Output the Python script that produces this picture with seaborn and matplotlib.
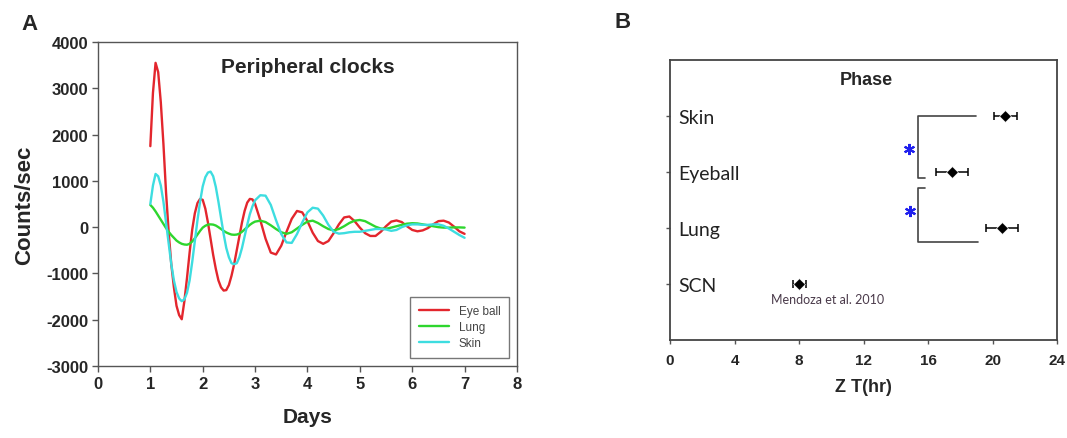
import matplotlib
matplotlib.use('Agg')
import matplotlib.pyplot as plt
import numpy as np
import pandas as pd
import seaborn as sns

# 数据：面板A（从图中读取的生物发光曲线）
days = [1.00, 1.05, 1.10, 1.15, 1.20, 1.25, 1.30, 1.35, 1.40, 1.45, 1.50, 1.55, 1.60, 1.65,
        1.70, 1.75, 1.80, 1.85, 1.90, 1.95, 2.00, 2.05, 2.10, 2.15, 2.20, 2.25, 2.30, 2.35,
        2.40, 2.45, 2.50, 2.55, 2.60, 2.65, 2.70, 2.75, 2.80, 2.85, 2.90, 2.95, 3.00,
        3.1, 3.2, 3.3, 3.4, 3.5, 3.6, 3.7, 3.8, 3.9, 4.0, 4.1, 4.2, 4.3, 4.4, 4.5, 4.6, 4.7,
        4.8, 4.9, 5.0, 5.1, 5.2, 5.3, 5.4, 5.5, 5.6, 5.7, 5.8, 5.9, 6.0, 6.1, 6.2, 6.3, 6.4,
        6.5, 6.6, 6.7, 6.8, 6.9, 7.0]
eyeball = [1750, 2900, 3550, 3350, 2700, 1800, 750, -100, -800, -1300, -1700, -1900, -1990, -1600,
           -1100, -550, -50, 300, 520, 610, 590, 400, 100, -250, -600, -900, -1150, -1300,
           -1370, -1360, -1250, -1050, -800, -500, -200, 100, 350, 530, 610, 600, 500,
           150, -250, -550, -590, -400, -100, 180, 350, 320, 130, -120, -300, -360, -300, -130, 60, 210,
           230, 130, -10, -130, -190, -190, -100, 20, 120, 145, 110, 20, -60, -90, -70, -20, 60,
           130, 140, 100, 10, -90, -145]
lung = [480, 420, 340, 250, 160, 70, -20, -100, -170, -230, -290, -330, -360, -375,
        -380, -360, -310, -240, -160, -80, -10, 30, 55, 60, 55, 35, 0, -40,
        -80, -115, -140, -160, -165, -160, -140, -100, -50, 0, 50, 90, 120,
        140, 110, 40, -40, -110, -145, -110, -30, 50, 120, 140, 90, 20, -40, -70, -40, 20,
        90, 140, 155, 130, 70, 10, -30, -35, -10, 20, 50, 75, 85, 80, 60, 40, 20,
        0, -10, -10, -5, -5, -10]
skin = [500, 900, 1150, 1100, 900, 550, 100, -350, -800, -1150, -1400, -1540, -1600, -1560,
        -1420, -1150, -750, -300, 150, 550, 880, 1080, 1180, 1200, 1100, 870, 550, 200,
        -150, -450, -650, -780, -800, -780, -650, -450, -200, 50, 280, 450, 580,
        690, 680, 480, 150, -150, -330, -340, -150, 100, 320, 420, 400, 250, 50, -100, -140, -130,
        -110, -100, -100, -80, -60, -40, -40, -50, -80, -60, 0, 40, 60, 60, 50, 50, 60,
        60, 30, -30, -100, -170, -230]

# 数据：面板B（相位，均值 ± 误差）
tissues = ['Skin', 'Eyeball', 'Lung', 'SCN']
tissue_pos = [4, 3, 2, 1]
phase_mean = [20.8, 17.5, 20.6, 8.0]
phase_err = [0.7, 1.0, 1.0, 0.4]

# 显著性括号
bracket1_x = [19.0, 15.4, 15.4, 15.8]
bracket1_y = [4.0, 4.0, 2.9, 2.9]
bracket2_x = [15.8, 15.4, 15.4, 19.1]
bracket2_y = [2.72, 2.72, 1.75, 1.75]
star_x = [14.8, 14.85]
star_y = [3.42, 2.3]

sns.set_style('white')
plt.rcParams['font.family'] = ['Liberation Sans', 'DejaVu Sans']

fig = plt.figure(figsize=(10.67, 4.39), dpi=100)
ax1 = fig.add_axes([0.0918, 0.164, 0.3927, 0.738])
ax2 = fig.add_axes([0.628, 0.223, 0.3627, 0.638])

# 面板A
df = pd.DataFrame({
    'Days': days * 3,
    'Counts': eyeball + lung + skin,
    'Tissue': ['Eye ball'] * len(days) + ['Lung'] * len(days) + ['Skin'] * len(days),
})
palette = {'Eye ball': '#e3262d', 'Lung': '#2ed62e', 'Skin': '#3ddde0'}
sns.lineplot(data=df, x='Days', y='Counts', hue='Tissue', palette=palette, lw=1.7, ax=ax1)
ax1.set_xlim(0, 8)
ax1.set_ylim(-3000, 4000)
ax1.set_xticks(range(0, 9))
ax1.set_yticks(range(-3000, 4001, 1000))
ax1.set_yticklabels([str(v) for v in range(-3000, 4001, 1000)])
ax1.tick_params(axis='both', direction='out', length=4, width=1, color='#555555',
                labelsize=12, pad=3, bottom=True, left=True)
for lbl in ax1.get_xticklabels() + ax1.get_yticklabels():
    lbl.set_fontweight('bold')
ax1.set_xlabel('Days', fontsize=15, fontweight='bold', labelpad=12)
ax1.set_ylabel('Counts/sec', fontsize=16, fontweight='bold', labelpad=8)
ax1.text(4, 3480, 'Peripheral clocks', ha='center', va='center', fontsize=15, fontweight='bold')
for spine in ax1.spines.values():
    spine.set_linewidth(1.0)
    spine.set_color('#555555')
leg = ax1.legend(loc='lower right', fontsize=8.5, frameon=True, fancybox=False,
                 edgecolor='#555555', handlelength=2.6, labelspacing=0.35,
                 borderaxespad=0.7, borderpad=0.7, title=None)
leg.get_frame().set_linewidth(1.0)
for t in leg.get_texts():
    t.set_color('#444444')

# 面板B
ax2.errorbar(phase_mean, tissue_pos, xerr=phase_err, fmt='none', ecolor='black',
             elinewidth=1.1, capsize=3, capthick=1.1)
sns.scatterplot(x=phase_mean, y=tissue_pos, marker='D', color='black', s=36, ax=ax2, zorder=3)
ax2.plot(bracket1_x, bracket1_y, color='#444444', lw=1.2)
ax2.plot(bracket2_x, bracket2_y, color='#444444', lw=1.2)
ax2.plot(star_x, star_y, ls='none', marker=(6, 2, 0), color='#2020ee', markersize=8, mew=1.5)
ax2.set_xlim(0, 24)
ax2.set_ylim(0, 5)
ax2.set_xticks(range(0, 25, 4))
ax2.set_yticks(tissue_pos)
ax2.set_yticklabels(tissues, fontsize=14, family=['Lato', 'DejaVu Sans'], color='#222222')
for lbl in ax2.get_yticklabels():
    lbl.set_ha('left')
ax2.tick_params(axis='y', direction='out', length=3, width=1, color='#555555', pad=-8.8, left=True)
ax2.tick_params(axis='x', direction='out', length=3, width=1, color='#555555', labelsize=11,
                pad=6, bottom=True)
for lbl in ax2.get_xticklabels():
    lbl.set_fontweight('bold')
ax2.set_xlabel('Z T(hr)', fontsize=13, fontweight='bold', labelpad=8)
ax2.set_ylabel('')
ax2.text(12.2, 4.65, 'Phase', ha='center', va='center', fontsize=13, fontweight='bold')
ax2.text(9.75, 0.73, 'Mendoza et al. 2010', ha='center', va='center', fontsize=9,
         family=['Lato', 'DejaVu Sans'], color='#4a3a4a')
for spine in ax2.spines.values():
    spine.set_linewidth(1.3)
    spine.set_color('#444444')

fig.text(30 / 1067, 1 - 24 / 439, 'A', fontsize=16, fontweight='bold', ha='center', va='center')
fig.text(623 / 1067, 1 - 22 / 439, 'B', fontsize=16, fontweight='bold', ha='center', va='center')

fig.savefig('out.png', dpi=100, facecolor='white')
